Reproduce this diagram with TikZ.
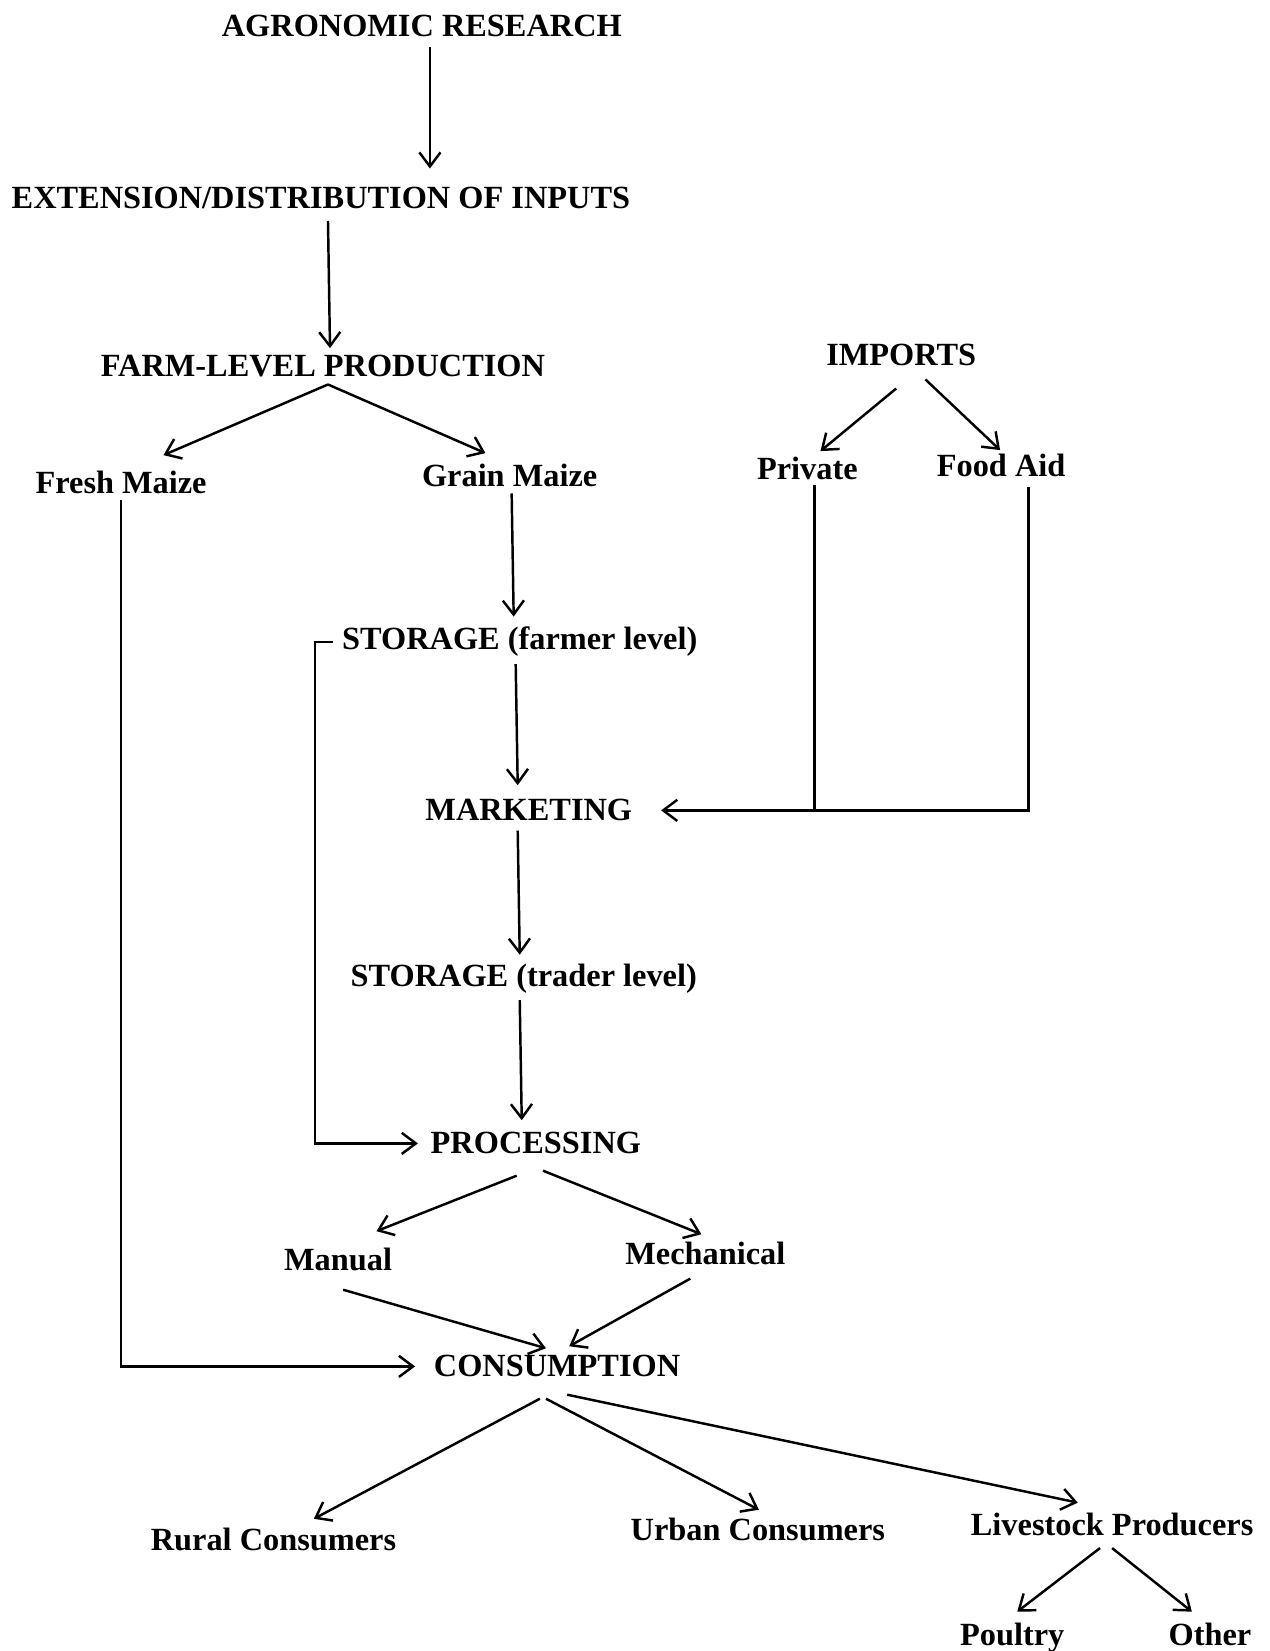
\documentclass[tikz,border=0pt]{standalone}
\usepackage{fontspec}
\setmainfont{Liberation Serif}
\usetikzlibrary{calc,arrows.meta}

\begin{document}
\begin{tikzpicture}[x=0.01009cm, y=-0.01009cm,
		lbl/.style={font=\bfseries\fontsize{9.2}{11}\selectfont, inner sep=0pt},
		arr/.style={line width=0.7pt, -{Straight Barb[length=4pt,width=6pt]}},
		ln/.style={line width=0.7pt}]
			%%%%% START %%%%%
			
			\useasboundingbox (0, 0) rectangle (1258, 1636);
			
			\node[lbl] (agro) at (418, 26) {AGRONOMIC RESEARCH};
			\node[lbl] (ext) at (318, 196) {EXTENSION/DISTRIBUTION OF INPUTS};
			\node[lbl] (farm) at (320, 363) {FARM-LEVEL PRODUCTION};
			\node[lbl] (imports) at (893, 352) {IMPORTS};
			
			\node[lbl] (fresh) at (120, 478) {Fresh Maize};
			\node[lbl] (grain) at (505, 471) {Grain Maize};
			\node[lbl] (private) at (800, 464) {Private};
			\node[lbl] (foodaid) at (992, 461) {Food Aid};
			
			\node[lbl] (store1) at (515, 636) {STORAGE (farmer level)};
			\node[lbl] (market) at (524, 803) {MARKETING};
			\node[lbl] (store2) at (519, 970) {STORAGE (trader level)};
			\node[lbl] (proc) at (531, 1133) {PROCESSING};
			
			\node[lbl] (manual) at (335, 1248) {Manual};
			\node[lbl] (mech) at (699, 1242) {Mechanical};
			\node[lbl] (cons) at (552, 1354) {CONSUMPTION};
			
			\node[lbl] (rural) at (271, 1525) {Rural Consumers};
			\node[lbl] (urban) at (751, 1516) {Urban Consumers};
			\node[lbl] (live) at (1102, 1511) {Livestock Producers};
			\node[lbl] (poultry) at (1003, 1623) {Poultry};
			\node[lbl] (other) at (1199, 1620) {Other};
			
			% top chain
			\draw[arr] ($(agro)+(8,21)$) -- ($(ext)+(108,-29)$);
			\draw[arr] ($(ext)+(7,23)$) -- ($(farm)+(7,-18)$);
			\draw[arr] ($(farm)+(5,18)$) -- ($(fresh)+(42,-27)$);
			\draw[arr] ($(farm)+(5,18)$) -- ($(grain)+(-24,-22)$);
			\draw[arr] ($(imports)+(-5,33)$) -- ($(private)+(13,-17)$);
			\draw[arr] ($(imports)+(24,24)$) -- ($(foodaid)+(-1,-15)$);
			
			% grain maize to marketing
			\draw[arr] ($(grain)+(2,18)$) -- ($(store1)+(-6,-25)$);
			\draw[arr] ($(store1)+(-4,22)$) -- ($(market)+(-11,-25)$);
			
			% imports into marketing
			\coordinate (pvtfoot) at ($(private)+(7,17)$);
			\draw[ln] (pvtfoot) -- (pvtfoot |- market);
			\draw[arr] ($(foodaid)+(27,22)$) |- ($(market.east)+(28,0)$);
			
			\draw[arr] ($(market)+(-11,20)$) -- ($(store2)+(-4,-24)$);
			\draw[arr] ($(store2)+(-4,21)$) -- ($(proc)+(-14,-23)$);
			\draw[arr] ($(store1.west)+(-8,0)$) -- ++(-18,0) |- ($(proc.west)+(-12,0)$);
			
			% fresh maize straight to consumption
			\draw[arr] ($(fresh)+(0,17)$) |- ($(cons.west)+(-18,0)$);
			
			\draw[arr] ($(proc)+(-19,32)$) -- ($(manual)+(38,-28)$);
			\draw[arr] ($(proc)+(7,27)$) -- ($(mech)+(-4,-19)$);
			\draw[arr] ($(manual)+(5,30)$) -- ($(cons)+(-11,-18)$);
			\draw[arr] ($(mech)+(-15,25)$) -- ($(cons)+(12,-20)$);
			
			\draw[arr] ($(cons)+(-17,32)$) -- ($(rural)+(40,-20)$);
			\draw[arr] ($(cons)+(-11,32)$) -- ($(urban)+(1,-20)$);
			\draw[arr] ($(cons)+(10,28)$) -- ($(live)+(-34,-22)$);
			\draw[arr] ($(live)+(-12,23)$) -- ($(poultry)+(5,-26)$);
			\draw[arr] ($(live)+(0,23)$) -- ($(other)+(-18,-23)$);
			
			%%%%% END %%%%%
\end{tikzpicture}
\end{document}
